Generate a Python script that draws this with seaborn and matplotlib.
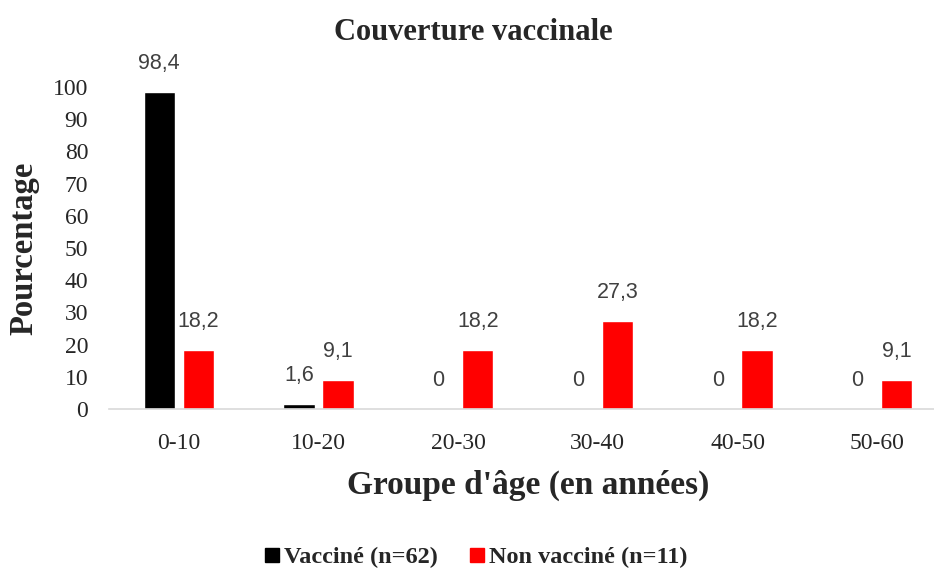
import pandas as pd
import matplotlib.pyplot as plt
import seaborn as sns
from matplotlib.lines import Line2D

# Data
age_groups = ["0-10", "10-20", "20-30", "30-40", "40-50", "50-60"]
vaccine = [98.4, 1.6, 0, 0, 0, 0]
non_vaccine = [18.2, 9.1, 18.2, 27.3, 18.2, 9.1]
series_names = ["Vacciné (n=62)", "Non vacciné (n=11)"]
series_colors = ["#000000", "#ff0000"]
y_ticks = list(range(0, 101, 10))


def main():
    sns.set_theme(style="white")
    plt.rcParams["font.family"] = ["Liberation Serif", "DejaVu Serif"]

    df = pd.DataFrame({
        "Groupe": age_groups * 2,
        "Pourcentage": vaccine + non_vaccine,
        "Statut": [series_names[0]] * len(age_groups) + [series_names[1]] * len(age_groups),
    })

    fig = plt.figure(figsize=(9.34, 5.70), dpi=100)
    ax = fig.add_axes([109 / 934, 1 - 409 / 570, (947 - 109) / 934, (409 - 87) / 570])

    sns.barplot(
        data=df,
        x="Groupe",
        y="Pourcentage",
        hue="Statut",
        palette=series_colors,
        saturation=1,
        width=0.56,
        gap=0.2,
        legend=False,
        ax=ax,
    )

    # Data labels with French decimal comma
    for container in ax.containers:
        labels = [f"{v:g}".replace(".", ",") for v in container.datavalues]
        ax.bar_label(container, labels=labels, padding=13, fontsize=15.5,
                     color="#404040", family=["Liberation Sans", "DejaVu Sans"],
                     clip_on=False)

    ax.set_ylim(0, 100)
    ax.set_xlim(-0.5, 5.5)
    ax.set_yticks(y_ticks)
    ax.set_yticklabels([str(t) for t in y_ticks])
    ax.tick_params(axis="y", length=0, pad=15, labelsize=17, labelcolor="#262626")
    ax.tick_params(axis="x", length=0, pad=17, labelsize=17, labelcolor="#262626")
    ax.set_xlabel("")
    ax.set_ylabel("")

    for side in ["top", "right", "left"]:
        ax.spines[side].set_visible(False)
    ax.spines["bottom"].set_color("#d9d9d9")
    ax.spines["bottom"].set_linewidth(1.2)
    ax.grid(False)

    fig.text(473 / 934, 1 - 32 / 570, "Couverture vaccinale", ha="center", va="center",
             fontsize=22, fontweight="bold")
    fig.text(528 / 934, 1 - 485 / 570, "Groupe d'âge (en années)", ha="center", va="center",
             fontsize=24, fontweight="bold")
    fig.text(24 / 934, 1 - 248 / 570, "Pourcentage", ha="center", va="center",
             rotation=90, fontsize=23.5, fontweight="bold")

    handles = [
        Line2D([0], [0], marker="s", linestyle="", markersize=10,
               markerfacecolor=c, markeredgecolor=c)
        for c in series_colors
    ]
    fig.legend(handles, series_names, loc="center", bbox_to_anchor=(476 / 934, 1 - 557 / 570),
               ncol=2, frameon=False, prop={"size": 17.5, "weight": "bold"},
               handlelength=0.6, handletextpad=0.2, columnspacing=1.3)

    fig.savefig("out.png", dpi=100)
    plt.close(fig)


if __name__ == "__main__":
    main()
